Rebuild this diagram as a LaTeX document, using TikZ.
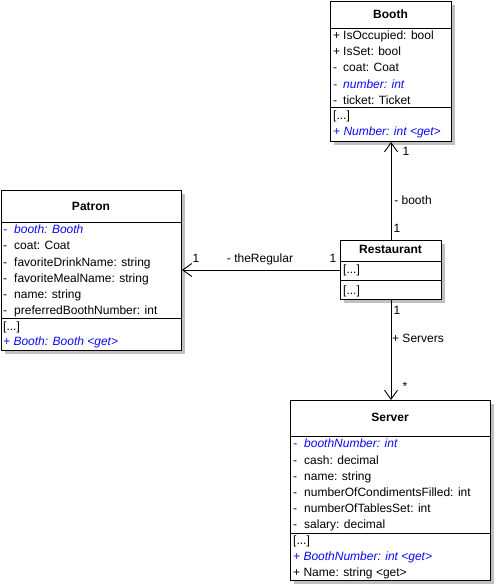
\documentclass[tikz,border=0pt]{standalone}
\usepackage{fontspec}
\setmainfont{Liberation Sans}
\usetikzlibrary{arrows.meta}
\definecolor{uBlue}{RGB}{10,10,255}
\definecolor{shadowgray}{RGB}{192,192,192}
\begin{document}
\begin{tikzpicture}[x=1pt,y=-1pt,
  box/.style={draw=black, line width=1pt, fill=white, inner sep=0pt, anchor=north west},
  shadowbox/.style={fill=shadowgray, draw=none},
  sep/.style={line width=1pt},
  hdr/.style={font=\fontsize{12}{14}\selectfont\bfseries, inner sep=0pt, text height=8.6pt, text depth=2.5pt},
  row/.style={font=\fontsize{12}{14}\selectfont, anchor=west, inner sep=0pt, text height=8.6pt, text depth=2.5pt},
  irow/.style={row, font=\fontsize{12}{14}\selectfont\itshape, text=uBlue},
  lbl/.style={font=\fontsize{12}{14}\selectfont, inner sep=0pt, text height=8.6pt, text depth=2.5pt},
  assoc/.style={draw, line width=0.9pt, -{Straight Barb[length=9pt,width=13pt,line width=0.9pt]}}
]
\useasboundingbox (0,0) rectangle (495,585);
\fill[white] (0,0) rectangle (495,585);

% ---------- Booth ----------
\fill[shadowbox] (334,5) rectangle (455,145);
\node[box, minimum width=121pt, minimum height=140pt] (booth) at (330,1) {};
\draw[sep] (330,29) -- (451,29);
\draw[sep] (330,108) -- (451,108);
\node[hdr] (boothT) at (390.5,15) {Booth};
\node[row] (b1) at (333,36) {\makebox[10pt][l]{+}IsOccupied: bool};
\node[row] (b2) at (333,52) {\makebox[10pt][l]{+}IsSet: bool};
\node[row] (b3) at (333,68) {\makebox[10pt][l]{-}coat: Coat};
\node[irow] (b4) at (333,85) {\makebox[10pt][l]{-}number: int};
\node[row] (b5) at (333,101) {\makebox[10pt][l]{-}ticket: Ticket};
\node[row] (b6) at (333,116) {[...]};
\node[irow] (b7) at (333,132) {+ Number: int <get>};

% ---------- Patron ----------
\fill[shadowbox] (5,194) rectangle (185,354);
\node[box, minimum width=180pt, minimum height=160pt] (patron) at (1,190) {};
\draw[sep] (1,222) -- (181,222);
\draw[sep] (1,318) -- (181,318);
\node[hdr] (patronT) at (91,207) {Patron};
\node[irow] (p1) at (3,230) {\makebox[11pt][l]{-}booth: Booth};
\node[row] (p2) at (3,246) {\makebox[11pt][l]{-}coat: Coat};
\node[row] (p3) at (3,263) {\makebox[11pt][l]{-}favoriteDrinkName: string};
\node[row] (p4) at (3,279) {\makebox[11pt][l]{-}favoriteMealName: string};
\node[row] (p5) at (3,295) {\makebox[11pt][l]{-}name: string};
\node[row] (p6) at (3,311) {\makebox[11pt][l]{-}preferredBoothNumber: int};
\node[row] (p7) at (3,327) {[...]};
\node[irow] (p8) at (3,342) {+ Booth: Booth <get>};

% ---------- Restaurant ----------
\fill[shadowbox] (344,244) rectangle (445,303);
\node[box, minimum width=101pt, minimum height=59pt] (restaurant) at (340,240) {};
\draw[sep] (340,261) -- (441,261);
\draw[sep] (340,280) -- (441,280);
\node[hdr] (restT) at (390.5,250) {Restaurant};
\node[row] (r1) at (343,270) {[...]};
\node[row] (r2) at (343,291) {[...]};

% ---------- Server ----------
\fill[shadowbox] (294,404) rectangle (494,584);
\node[box, minimum width=200pt, minimum height=180pt] (server) at (290,400) {};
\draw[sep] (290,436) -- (490,436);
\draw[sep] (290,533) -- (490,533);
\node[hdr] (serverT) at (390,418) {Server};
\node[irow] (s1) at (293,444) {\makebox[11pt][l]{-}boothNumber: int};
\node[row] (s2) at (293,461) {\makebox[11pt][l]{-}cash: decimal};
\node[row] (s3) at (293,477) {\makebox[11pt][l]{-}name: string};
\node[row] (s4) at (293,493) {\makebox[11pt][l]{-}numberOfCondimentsFilled: int};
\node[row] (s5) at (293,509) {\makebox[11pt][l]{-}numberOfTablesSet: int};
\node[row] (s6) at (293,525) {\makebox[11pt][l]{-}salary: decimal};
\node[row] (s7) at (293,541) {[...]};
\node[irow] (s8) at (293,557) {+ BoothNumber: int <get>};
\node[row] (s9) at (293,573) {+ Name: string <get>};

% ---------- Associations ----------
\draw[assoc] (restaurant.north) -- (booth.south);
\draw[assoc] (restaurant.south) -- (restaurant.south |- server.north);
\draw[assoc] (restaurant.west) -- (restaurant.west -| patron.east);

\node[lbl] (l1) at (406,152) {1};
\node[lbl] (l2) at (413,201) {- booth};
\node[lbl] (l3) at (397,229) {1};
\node[lbl] (l4) at (397,311) {1};
\node[lbl] (l5) at (418,339) {+ Servers};
\node[lbl] (l6) at (405,387) {*};
\node[lbl] (l7) at (196,259) {1};
\node[lbl] (l8) at (260,259) {- theRegular};
\node[lbl] (l9) at (333,259) {1};
\end{tikzpicture}
\end{document}
